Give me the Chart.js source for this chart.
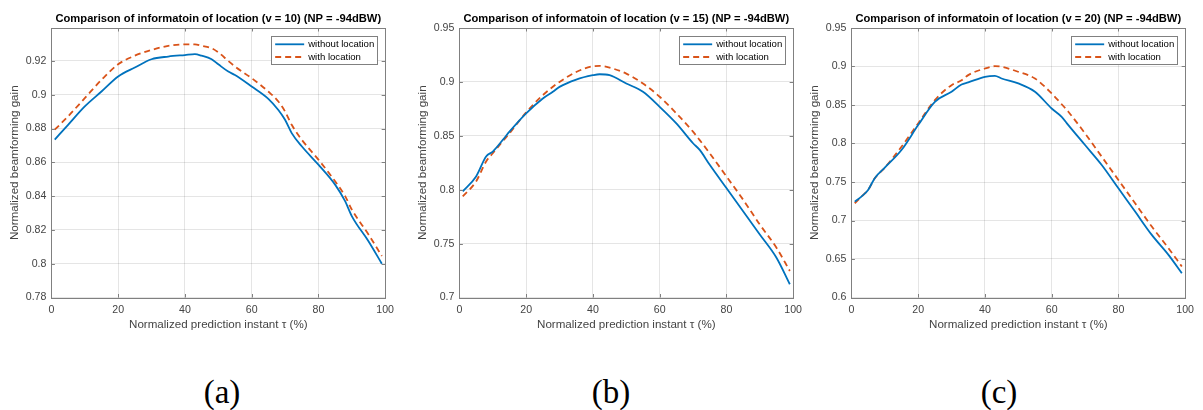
<!DOCTYPE html>
<html>
<head>
<meta charset="utf-8">
<script src="https://cdn.jsdelivr.net/npm/chart.js@4.4.1/dist/chart.umd.min.js"></script>
<style>
  html, body { margin: 0; padding: 0; background: #fff; }
  body { width: 1203px; height: 410px; position: relative; overflow: hidden; }
  canvas { position: absolute; top: 0; }
  .caption {
    position: absolute;
    top: 372px;
    width: 100px;
    margin-left: -50px;
    text-align: center;
    font-family: "Liberation Serif", "Times New Roman", serif;
    font-size: 33px;
    line-height: 40px;
    color: #000;
  }
</style>
</head>
<body>
<canvas id="chartA" width="400" height="340" style="left:0px"></canvas>
<canvas id="chartB" width="400" height="340" style="left:408px"></canvas>
<canvas id="chartC" width="400" height="340" style="left:800px"></canvas>
<div class="caption" style="left:222px">(a)</div>
<div class="caption" style="left:611px">(b)</div>
<div class="caption" style="left:999px">(c)</div>

<script>
/* ---------- data ---------- */

const seriesNames = ["without location", "with location"];
const xTicks = [0, 20, 40, 60, 80, 100];

// (a) v = 10
const xA = [1, 5, 10, 15, 20, 25, 30, 35, 40, 43, 45, 48, 50, 53, 55, 60, 65, 68, 70, 72, 75, 80, 85, 88, 90, 95, 99];
const withoutA = [0.8734, 0.8822, 0.8931, 0.9019, 0.9108, 0.9161, 0.921, 0.9226, 0.9235, 0.924, 0.9231, 0.921, 0.918, 0.9137, 0.9117, 0.9049, 0.8976, 0.891, 0.8852, 0.8773, 0.8695, 0.8586, 0.8468, 0.837, 0.8282, 0.8133, 0.8];
const withA = [0.8793, 0.8872, 0.898, 0.9088, 0.918, 0.9231, 0.9265, 0.9289, 0.9298, 0.9298, 0.929, 0.9275, 0.9251, 0.92, 0.9167, 0.9098, 0.9019, 0.896, 0.8901, 0.8822, 0.8734, 0.8616, 0.8488, 0.84, 0.8321, 0.8173, 0.8046];
const yTicksA = [0.78, 0.8, 0.82, 0.84, 0.86, 0.88, 0.9, 0.92];

// (b) v = 15
const xB = [1, 5, 8, 10, 13, 15, 20, 25, 28, 30, 35, 40, 42, 45, 50, 55, 60, 65, 70, 72, 75, 80, 85, 90, 95, 99];
const withoutB = [0.7985, 0.8123, 0.8308, 0.8354, 0.8462, 0.8538, 0.8708, 0.8846, 0.8908, 0.8954, 0.9022, 0.9062, 0.9071, 0.9062, 0.8985, 0.8908, 0.8769, 0.8615, 0.8431, 0.8369, 0.8231, 0.8015, 0.78, 0.7585, 0.7369, 0.7123];
const withB = [0.7938, 0.8077, 0.8262, 0.8338, 0.845, 0.8523, 0.8717, 0.8877, 0.8955, 0.9, 0.9092, 0.9145, 0.9148, 0.9132, 0.9077, 0.8985, 0.8862, 0.8708, 0.8538, 0.846, 0.8338, 0.8123, 0.7908, 0.7677, 0.7462, 0.7246];
const yTicksB = [0.7, 0.75, 0.8, 0.85, 0.9, 0.95];

// (c) v = 20
const xC = [1, 3, 5, 7, 10, 15, 20, 25, 30, 33, 35, 40, 43, 45, 50, 55, 60, 63, 65, 70, 75, 80, 85, 90, 95, 99];
const withoutC = [0.7245, 0.731, 0.7397, 0.755, 0.7686, 0.7915, 0.8239, 0.8542, 0.8672, 0.8767, 0.8793, 0.8866, 0.8879, 0.8844, 0.878, 0.8672, 0.8455, 0.8347, 0.8239, 0.798, 0.7721, 0.7418, 0.7116, 0.6813, 0.6554, 0.6316];
const withC = [0.7224, 0.731, 0.7397, 0.7548, 0.7686, 0.7958, 0.8261, 0.8564, 0.8758, 0.882, 0.8888, 0.8974, 0.9004, 0.8996, 0.8931, 0.8844, 0.865, 0.851, 0.8412, 0.8131, 0.7829, 0.7526, 0.7224, 0.6921, 0.664, 0.6403];
const yTicksC = [0.6, 0.65, 0.7, 0.75, 0.8, 0.85, 0.9, 0.95];

/* ---------- look ---------- */

const FONT = "'Liberation Sans', Arial, Helvetica, sans-serif";
const AXIS_COLOR = "#444";
const BOX_COLOR = "#808080";
const GRID_COLOR = "rgba(38, 38, 38, 0.12)";
const BLUE = "#0072BD";
const ORANGE = "#D95319";

function toPoints(xs, ys) {
  return xs.map((x, i) => ({ x: x, y: ys[i] }));
}

function fmt(v) {
  return String(Number(v.toFixed(3)));
}

// MATLAB-ish frame: title, box, inner tick marks and boxed legend
const matlabFrame = {
  id: "matlabFrame",
  afterDraw(chart, args, opts) {
    const ctx = chart.ctx;
    const a = chart.chartArea;
    const xs = chart.scales.x;
    const ys = chart.scales.y;

    ctx.save();

    // title
    ctx.fillStyle = "#000";
    ctx.font = "bold 11.2px " + FONT;
    ctx.textAlign = "center";
    ctx.textBaseline = "middle";
    ctx.fillText(opts.title, (a.left + a.right) / 2, 19);

    // box
    ctx.strokeStyle = BOX_COLOR;
    ctx.lineWidth = 1;
    ctx.strokeRect(Math.round(a.left) + 0.5, Math.round(a.top) + 0.5,
      Math.round(a.right - a.left), Math.round(a.bottom - a.top));

    // inner ticks
    const tl = 3.5;
    ctx.beginPath();
    xs.ticks.forEach(t => {
      const px = Math.round(xs.getPixelForValue(t.value)) + 0.5;
      ctx.moveTo(px, a.bottom); ctx.lineTo(px, a.bottom - tl);
      ctx.moveTo(px, a.top); ctx.lineTo(px, a.top + tl);
    });
    ys.ticks.forEach(t => {
      const py = Math.round(ys.getPixelForValue(t.value)) + 0.5;
      ctx.moveTo(a.left, py); ctx.lineTo(a.left + tl, py);
      ctx.moveTo(a.right, py); ctx.lineTo(a.right - tl, py);
    });
    ctx.stroke();

    // legend box in the upper right corner
    const bw = 106, bh = 28;
    const bx = a.right - 8 - bw;
    const by = a.top + 8;
    ctx.fillStyle = "#fff";
    ctx.fillRect(bx, by, bw, bh);
    ctx.strokeStyle = BOX_COLOR;
    ctx.strokeRect(Math.round(bx) + 0.5, Math.round(by) + 0.5, bw, bh);

    ctx.font = "9.6px " + FONT;
    ctx.textAlign = "left";
    chart.data.datasets.forEach((ds, i) => {
      const ly = by + 8.3 + i * 12.7;
      ctx.beginPath();
      ctx.strokeStyle = ds.borderColor;
      ctx.lineWidth = ds.borderWidth;
      ctx.setLineDash(ds.borderDash || []);
      ctx.moveTo(bx + 4, ly);
      ctx.lineTo(bx + 33, ly);
      ctx.stroke();
      ctx.setLineDash([]);
      ctx.fillStyle = "#000";
      ctx.fillText(ds.label, bx + 37, ly + 0.5);
    });

    ctx.restore();
  }
};

function makePanel(id, title, xs, without, withLoc, yTicks, yMin, yMax, padRight) {
  const canvas = document.getElementById(id);
  return new Chart(canvas.getContext("2d"), {
    type: "line",
    data: {
      datasets: [
        {
          label: seriesNames[0],
          data: toPoints(xs, without),
          borderColor: BLUE,
          borderWidth: 1.8,
          pointRadius: 0,
          cubicInterpolationMode: "monotone",
          fill: false
        },
        {
          label: seriesNames[1],
          data: toPoints(xs, withLoc),
          borderColor: ORANGE,
          borderWidth: 1.8,
          borderDash: [6, 4],
          pointRadius: 0,
          cubicInterpolationMode: "monotone",
          fill: false
        }
      ]
    },
    options: {
      responsive: false,
      animation: false,
      events: [],
      layout: { padding: { left: 0, right: padRight, top: 28, bottom: 0 } },
      plugins: {
        legend: { display: false },
        title: { display: false },
        tooltip: { enabled: false },
        matlabFrame: { title: title }
      },
      scales: {
        x: {
          type: "linear",
          min: 0,
          max: 100,
          afterFit: s => { s.height = 42.5; },
          afterBuildTicks: s => { s.ticks = xTicks.map(v => ({ value: v })); },
          border: { display: false },
          grid: { color: GRID_COLOR, drawTicks: false },
          ticks: {
            color: AXIS_COLOR,
            padding: 6,
            maxRotation: 0,
            font: { family: FONT, size: 10.6 },
            callback: v => fmt(v)
          },
          title: {
            display: true,
            text: "Normalized prediction instant \u03C4 (%)",
            color: AXIS_COLOR,
            font: { family: FONT, size: 11.6 },
            padding: { top: 0, bottom: 8 }
          }
        },
        y: {
          type: "linear",
          min: yMin,
          max: yMax,
          afterFit: s => { s.width = 51.4; },
          afterBuildTicks: s => { s.ticks = yTicks.map(v => ({ value: v })); },
          border: { display: false },
          grid: { color: GRID_COLOR, drawTicks: false },
          ticks: {
            color: AXIS_COLOR,
            padding: 5,
            font: { family: FONT, size: 10.6 },
            callback: v => fmt(v)
          },
          title: {
            display: true,
            text: "Normalized beamforming gain",
            color: AXIS_COLOR,
            font: { family: FONT, size: 11.6 },
            padding: { top: 8, bottom: 0 }
          }
        }
      }
    },
    plugins: [matlabFrame]
  });
}

document.addEventListener("DOMContentLoaded", () => {
  makePanel("chartA", "Comparison of informatoin of location (v = 10) (NP = -94dBW)",
    xA, withoutA, withA, yTicksA, 0.78, 0.9395, 7);
  makePanel("chartB", "Comparison of informatoin of location (v = 15) (NP = -94dBW)",
    xB, withoutB, withB, yTicksB, 0.7, 0.95, 8.7);
  makePanel("chartC", "Comparison of informatoin of location (v = 20) (NP = -94dBW)",
    xC, withoutC, withC, yTicksC, 0.6, 0.95, 7);
});
</script>
</body>
</html>
